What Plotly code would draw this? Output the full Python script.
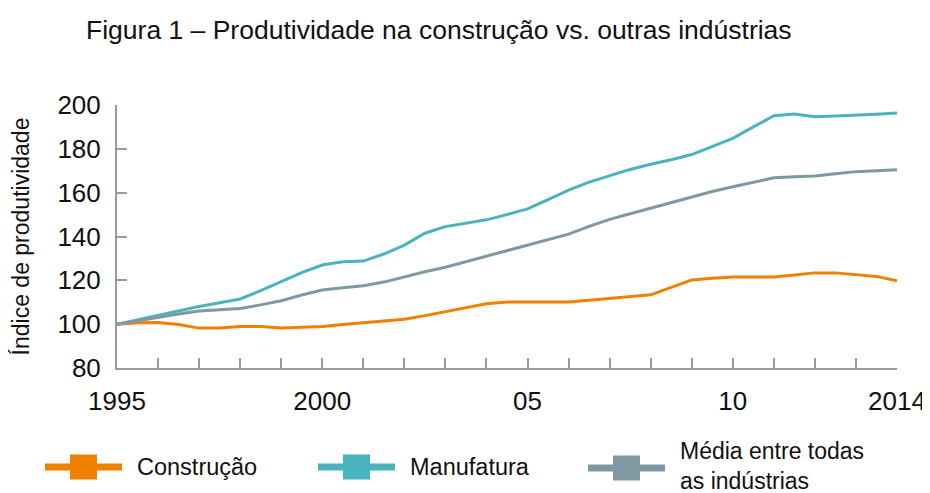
import plotly.graph_objects as go

# Data, half-year resolution
years = [1995, 1995.5, 1996, 1996.5, 1997, 1997.5, 1998, 1998.5, 1999, 1999.5,
         2000, 2000.5, 2001, 2001.5, 2002, 2002.5, 2003, 2003.5, 2004, 2004.5,
         2005, 2005.5, 2006, 2006.5, 2007, 2007.5, 2008, 2008.5, 2009, 2009.5,
         2010, 2010.5, 2011, 2011.5, 2012, 2012.5, 2013, 2013.5, 2014]

construcao = [100, 100.7, 100.8, 99.8, 98.2, 98.2, 98.9, 98.9, 98.2, 98.5,
              98.9, 99.8, 100.7, 101.4, 102.2, 103.9, 105.7, 107.5, 109.3, 110.1,
              110.1, 110.1, 110.1, 110.9, 111.8, 112.6, 113.4, 116.8, 120.2, 120.9,
              121.5, 121.5, 121.5, 122.4, 123.4, 123.4, 122.6, 121.8, 119.8]

manufatura = [100, 102.1, 104.2, 106.2, 108.1, 109.8, 111.5, 115.3, 119.4, 123.5,
              127.0, 128.5, 128.8, 132.0, 136.1, 141.5, 144.5, 146.0, 147.6, 150.0,
              152.6, 156.8, 161.2, 164.8, 167.8, 170.6, 173.0, 175.0, 177.4, 181.0,
              184.8, 190.0, 195.1, 195.9, 194.6, 195.0, 195.3, 195.8, 196.4]

media = [100, 101.6, 103.1, 104.6, 106.0, 106.6, 107.2, 108.8, 110.7, 113.3,
         115.6, 116.6, 117.5, 119.2, 121.7, 123.9, 126.0, 128.5, 131.1, 133.6,
         136.1, 138.6, 141.1, 144.6, 147.8, 150.4, 152.9, 155.6, 158.2, 160.5,
         162.7, 164.9, 166.8, 167.3, 167.6, 168.6, 169.6, 170.0, 170.4]

tick_years = list(range(1995, 2015))
tick_labels = ['1995', '', '', '', '', '2000', '', '', '', '', '05',
               '', '', '', '', '10', '', '', '', '2014']

series_names = ['Construção', 'Manufatura', 'Média entre todas<br>as indústrias']
series_colors = ['#F08000', '#4BB3BD', '#7F98A2']
series_values = [construcao, manufatura, media]

# the page body has an 8px margin, so the figure is drawn 8px smaller
# and everything is placed 8px up/left of the reference positions
OFF = 8
W, H = 930 - OFF, 493 - OFF
L, R, T, B = 117 - OFF, 33, 105 - OFF, 125
pw, ph = W - L - R, H - T - B


def px_x(x):
    return (x - OFF - L) / pw


def px_y(y):
    return (H - B - (y - OFF)) / ph


fig = go.Figure()

for name, color, vals in zip(series_names, series_colors, series_values):
    fig.add_trace(go.Scatter(
        x=years, y=vals, mode='lines', name=name.replace('<br>', ' '),
        line=dict(color=color, width=3),
        showlegend=False
    ))

# custom legend: long thick line with a big square in the middle
legend_left = [45, 318, 588]
legend_yc = [467, 467, 468]
for name, color, x0, yc in zip(series_names, series_colors, legend_left, legend_yc):
    fig.add_shape(type='line', xref='paper', yref='paper',
                  x0=px_x(x0), x1=px_x(x0 + 77), y0=px_y(yc), y1=px_y(yc),
                  line=dict(color=color, width=7))
    fig.add_shape(type='rect', xref='paper', yref='paper',
                  x0=px_x(x0 + 25), x1=px_x(x0 + 52),
                  y0=px_y(yc - 12.5), y1=px_y(yc + 12.5),
                  fillcolor=color, line=dict(width=0))
    two_lines = '<br>' in name
    fig.add_annotation(text=name, xref='paper', yref='paper',
                       x=px_x(x0 + 90), y=px_y(yc - (2 if two_lines else 0)),
                       xanchor='left', yanchor='middle', align='left',
                       showarrow=False,
                       font=dict(size=23 if two_lines else 23.5, color='#111'))

fig.update_layout(
    width=W, height=H,
    paper_bgcolor='white', plot_bgcolor='white',
    font=dict(family='Liberation Sans, Arial, sans-serif', color='#111'),
    margin=dict(l=L, r=R, t=T, b=B),
    showlegend=False,
    title=dict(
        text='Figura 1 – Produtividade na construção vs. outras indústrias',
        font=dict(size=26.5, color='#111'),
        x=(86 - OFF) / W, xanchor='left', xref='container',
        y=1 - (30 - OFF) / H, yanchor='middle', yref='container'
    )
)

fig.update_xaxes(
    range=[1995, 2014], automargin=False,
    tickvals=tick_years, ticktext=tick_labels,
    ticks='inside', ticklen=10, tickwidth=1.5, tickcolor='#999',
    showline=True, linecolor='#999', linewidth=2,
    showgrid=False, zeroline=False,
    tickfont=dict(size=26, color='#111'),
    ticklabelstandoff=9
)

fig.update_yaxes(
    range=[80, 200], dtick=20, automargin=False,
    ticks='inside', ticklen=10, tickwidth=1.5, tickcolor='#999',
    showline=True, linecolor='#999', linewidth=2,
    showgrid=False, zeroline=False,
    tickfont=dict(size=26, color='#111'),
    ticklabelstandoff=9,
    title=dict(text='Índice de produtividade', font=dict(size=23, color='#111'), standoff=21)
)

fig.write_html("out.html")
